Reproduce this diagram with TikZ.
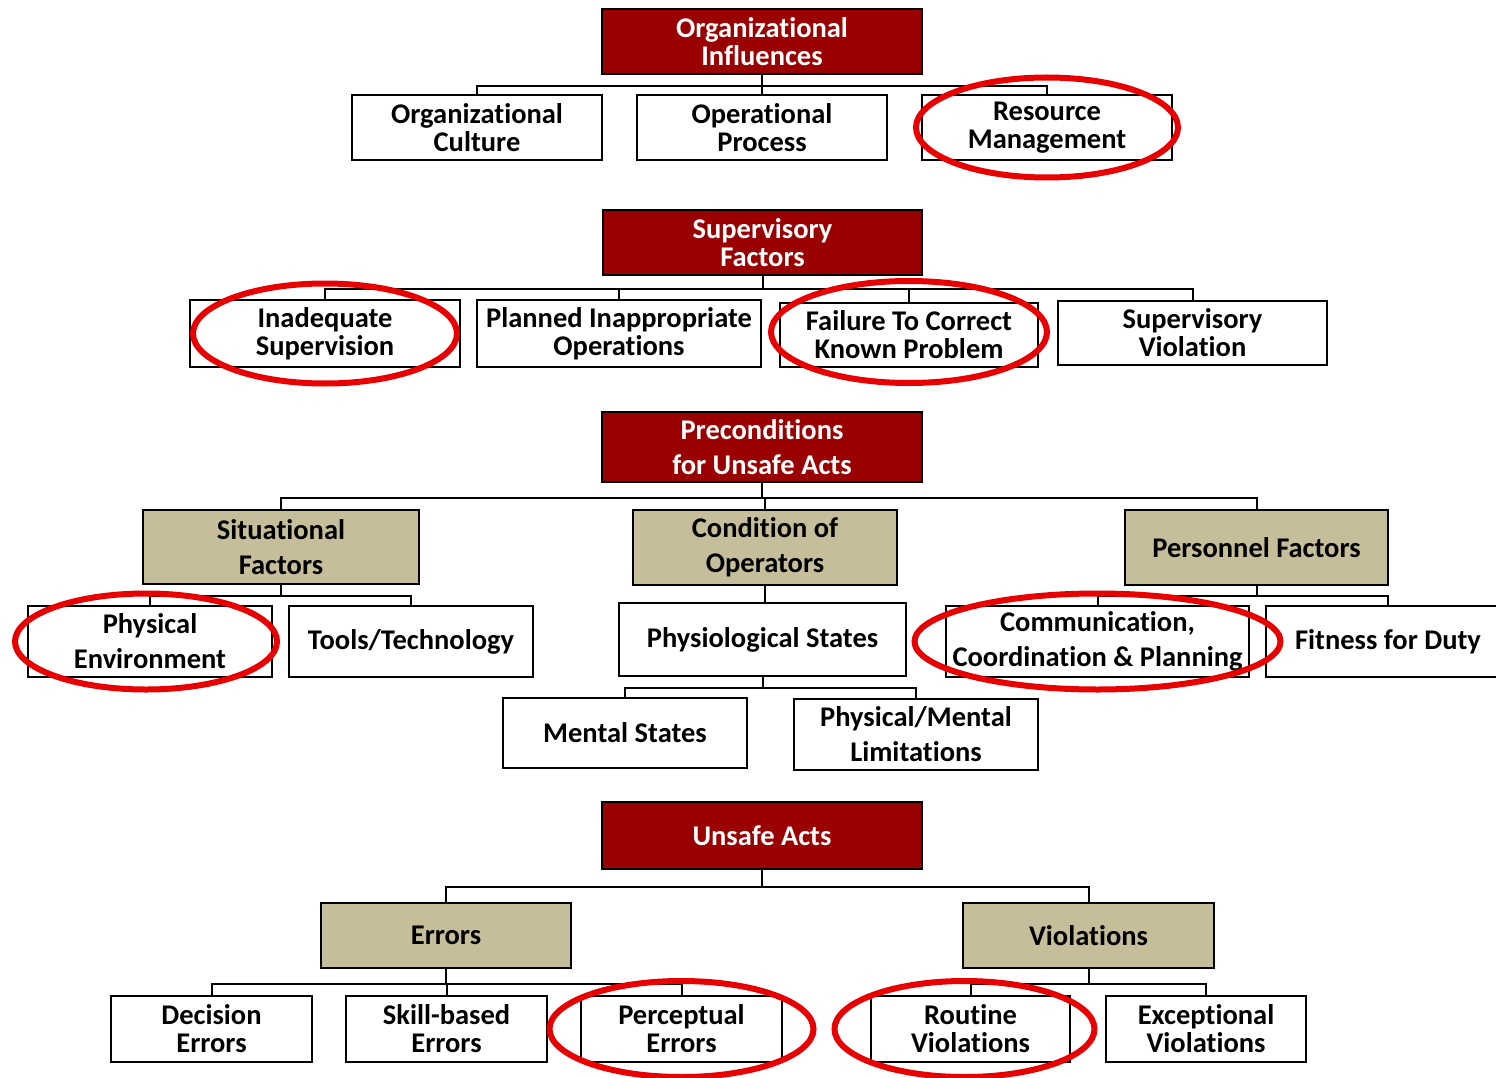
\documentclass[tikz,border=0pt]{standalone}
\usepackage{fontspec}
\setmainfont{Carlito}[Ligatures=NoCommon]
\definecolor{hfacsred}{RGB}{155,0,0}
\definecolor{hfacstan}{RGB}{198,190,154}
\definecolor{markred}{RGB}{232,0,0}
\tikzset{
    tier/.style={draw=black, line width=2pt, align=center, inner sep=0pt, font=\bfseries\fontsize{28.5}{28}\selectfont},
    wide/.style={font=\bfseries\fontsize{28.5}{35}\selectfont},
    head/.style={tier, fill=hfacsred, text=white},
    cat/.style={tier, wide, fill=hfacstan},
    leaf/.style={tier, fill=white},
    boxsize/.style 2 args={minimum width=#1pt, minimum height=#2pt},
    link/.style={line width=2pt},
    ring/.style={draw=markred, line width=6pt}
}
\begin{document}
\begin{tikzpicture}[x=1pt, y=-1pt]
    \useasboundingbox (0,0) rectangle (1496,1078);
    \clip (0,0) rectangle (1496,1078);
    \node[head, boxsize={320}{65}] (OI) at (762,41.5) {Organizational\\Influences};
    \node[leaf, boxsize={250}{65}] (OC) at (477,127.5) {Organizational\\Culture};
    \node[leaf, boxsize={250}{65}] (OP) at (762,127.5) {Operational\\Process};
    \node[leaf, boxsize={250}{65}] (RM) at (1047,127.5) {Resource\\Management};
    \node[head, boxsize={319}{65}] (SF) at (762.5,242.5) {Supervisory\\Factors};
    \node[leaf, boxsize={270}{67}] (IS) at (325,333.5) {Inadequate\\Supervision};
    \node[leaf, boxsize={284}{67}] (PIO) at (619,333.5) {Planned Inappropriate\\Operations};
    \node[leaf, boxsize={258}{64}] (FTC) at (909,335) {Failure To Correct\\Known Problem};
    \node[leaf, boxsize={269}{64}] (SV) at (1192.5,333) {Supervisory\\Violation};
    \node[head, wide, boxsize={320}{70}] (PUA) at (762,447) {Preconditions\\for Unsafe Acts};
    \node[cat, boxsize={276}{74}] (SIT) at (281,547) {Situational\\Factors};
    \node[cat, boxsize={264}{75}] (COO) at (765,547.5) {Condition of\\Operators};
    \node[cat, boxsize={263}{75}] (PER) at (1256.5,547.5) {Personnel Factors};
    \node[leaf, wide, boxsize={244}{71}] (PHE) at (150,641.5) {Physical\\Environment};
    \node[leaf, wide, boxsize={244}{71}] (TT) at (411,641.5) {Tools/Technology};
    \node[leaf, wide, boxsize={287}{73}] (PS) at (762.5,639.5) {Physiological States};
    \node[leaf, wide, boxsize={244}{70}] (MS) at (625,733) {Mental States};
    \node[leaf, wide, boxsize={244}{71}] (PML) at (916,734.5) {Physical/Mental\\Limitations};
    \node[leaf, wide, boxsize={303}{71}] (CCP) at (1097.5,641.5) {Communication,\\Coordination \& Planning};
    \node[leaf, wide, boxsize={244}{71}] (FFD) at (1388,641.5) {Fitness for Duty};
    \node[head, boxsize={320}{67}] (UA) at (762,835.5) {Unsafe Acts};
    \node[cat, boxsize={250}{65}] (ERR) at (446,935.5) {Errors};
    \node[cat, boxsize={251}{65}] (VIO) at (1088.5,935.5) {Violations};
    \node[leaf, boxsize={201}{66}] (DE) at (211.5,1029) {Decision\\Errors};
    \node[leaf, boxsize={201}{66}] (SBE) at (446.5,1029) {Skill-based\\Errors};
    \node[leaf, boxsize={201}{66}] (PCE) at (681.5,1029) {Perceptual\\Errors};
    \node[leaf, boxsize={199}{66}] (RV) at (970.5,1029) {Routine\\Violations};
    \node[leaf, boxsize={200}{66}] (EV) at (1206,1029) {Exceptional\\Violations};
    \draw[link] (OI.south) -- ++(0,11) -| (OC.north);
    \draw[link] (OI.south) -- ++(0,11) -| (RM.north);
    \draw[link] (OI.south) -- (OP.north);
    \draw[link] (SF.south) -- ++(0,13) -| (IS.north);
    \draw[link] (SF.south) -- ++(0,13) -| (PIO.north);
    \draw[link] (SF.south) -- ++(0,13) -| (FTC.north);
    \draw[link] (SF.south) -- ++(0,13) -| (SV.north);
    \draw[link] (PUA.south) -- ++(0,15) -| (SIT.north);
    \draw[link] (PUA.south) -- ++(0,15) -| (COO.north);
    \draw[link] (PUA.south) -- ++(0,15) -| (PER.north);
    \draw[link] (SIT.south) -- ++(0,11) -| (PHE.north);
    \draw[link] (SIT.south) -- ++(0,11) -| (TT.north);
    \draw[link] (COO.south) -- (COO.south |- PS.north);
    \draw[link] (PS.south) -- ++(0,11) -| (MS.north);
    \draw[link] (PS.south) -- ++(0,11) -| (PML.north);
    \draw[link] (PER.south) -- ++(0,10) -| (CCP.north);
    \draw[link] (PER.south) -- ++(0,10) -| (FFD.north);
    \draw[link] (UA.south) -- ++(0,17) -| (ERR.north);
    \draw[link] (UA.south) -- ++(0,17) -| (VIO.north);
    \draw[link] (ERR.south) -- ++(0,15) -| (DE.north);
    \draw[link] (ERR.south) -- ++(0,15) -| (SBE.north);
    \draw[link] (ERR.south) -- ++(0,15) -| (PCE.north);
    \draw[link] (VIO.south) -- ++(0,15) -| (RV.north);
    \draw[link] (VIO.south) -- ++(0,15) -| (EV.north);
    \draw[ring] (RM) ellipse (131 and 50);
    \draw[ring] (IS) ellipse (132 and 50);
    \draw[ring] ([yshift=3pt]FTC.center) ellipse (138 and 51);
    \draw[ring] ([xshift=-4pt]PHE.center) ellipse (131 and 48);
    \draw[ring] (CCP) ellipse (183 and 48);
    \draw[ring] (PCE) ellipse (132 and 48);
    \draw[ring] ([xshift=-6pt]RV.center) ellipse (130 and 48);
\end{tikzpicture}
\end{document}
